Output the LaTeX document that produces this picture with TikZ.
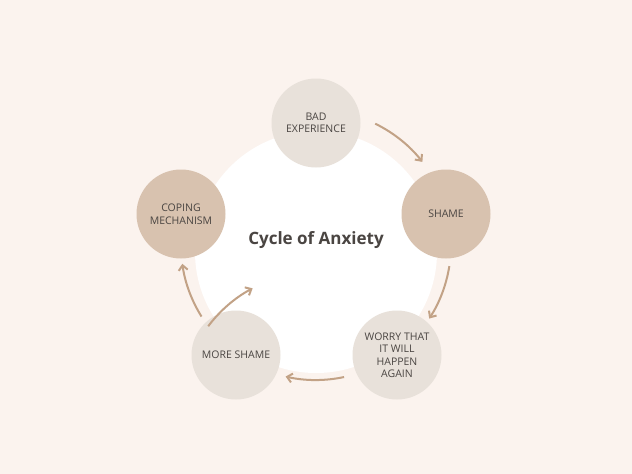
\documentclass[tikz,border=0pt]{standalone}
\usepackage{fontspec}
\setmainfont{Open Sans}
\usetikzlibrary{arrows.meta}
\definecolor{bg}{HTML}{FBF3EE}
\definecolor{light}{HTML}{E8E1DA}
\definecolor{dark}{HTML}{D8C2AF}
\definecolor{arr}{HTML}{C2A286}
\definecolor{txt}{HTML}{4A4542}
\begin{document}
\begin{tikzpicture}[x=1pt,y=-1pt,
  lbl/.style={circle,minimum size=89pt,inner sep=0pt,align=center,text=txt,font=\fontsize{10.5}{12.5}\selectfont},
  cyc/.style={draw=arr,line width=2pt,-{Straight Barb[length=5pt,width=9pt]}}]
\fill[bg] (0,0) rectangle (632,474);
\useasboundingbox (0,0) rectangle (632,474);
\fill[white] (316,252) circle (121);
\node[lbl,fill=light] (bad) at (316,123) {BAD\\EXPERIENCE};
\node[lbl,fill=dark] (shame) at (446,214) {SHAME};
\node[lbl,fill=light] (worry) at (397,355) {WORRY THAT\\IT WILL\\HAPPEN\\AGAIN};
\node[lbl,fill=light] (more) at (236,355) {MORE SHAME};
\node[lbl,fill=dark] (cope) at (181,214) {COPING\\MECHANISM};
\node[text=txt,font=\bfseries\fontsize{17}{20}\selectfont] (title) at (316,240) {Cycle of Anxiety};
\coordinate (c) at (316,245);
\draw[cyc] ([shift={(143:135)}]c) arc[start angle=-143,end angle=-118,radius=135];
\draw[cyc] ([shift={(-64:135)}]c) arc[start angle=-64,end angle=-38,radius=135];
\draw[cyc] ([shift={(9:135)}]c) arc[start angle=9,end angle=33,radius=135];
\draw[cyc] ([shift={(78:135)}]c) arc[start angle=78,end angle=103,radius=135];
\draw[cyc] ([shift={(148:135)}]c) arc[start angle=148,end angle=172,radius=135];
\end{tikzpicture}
\end{document}
